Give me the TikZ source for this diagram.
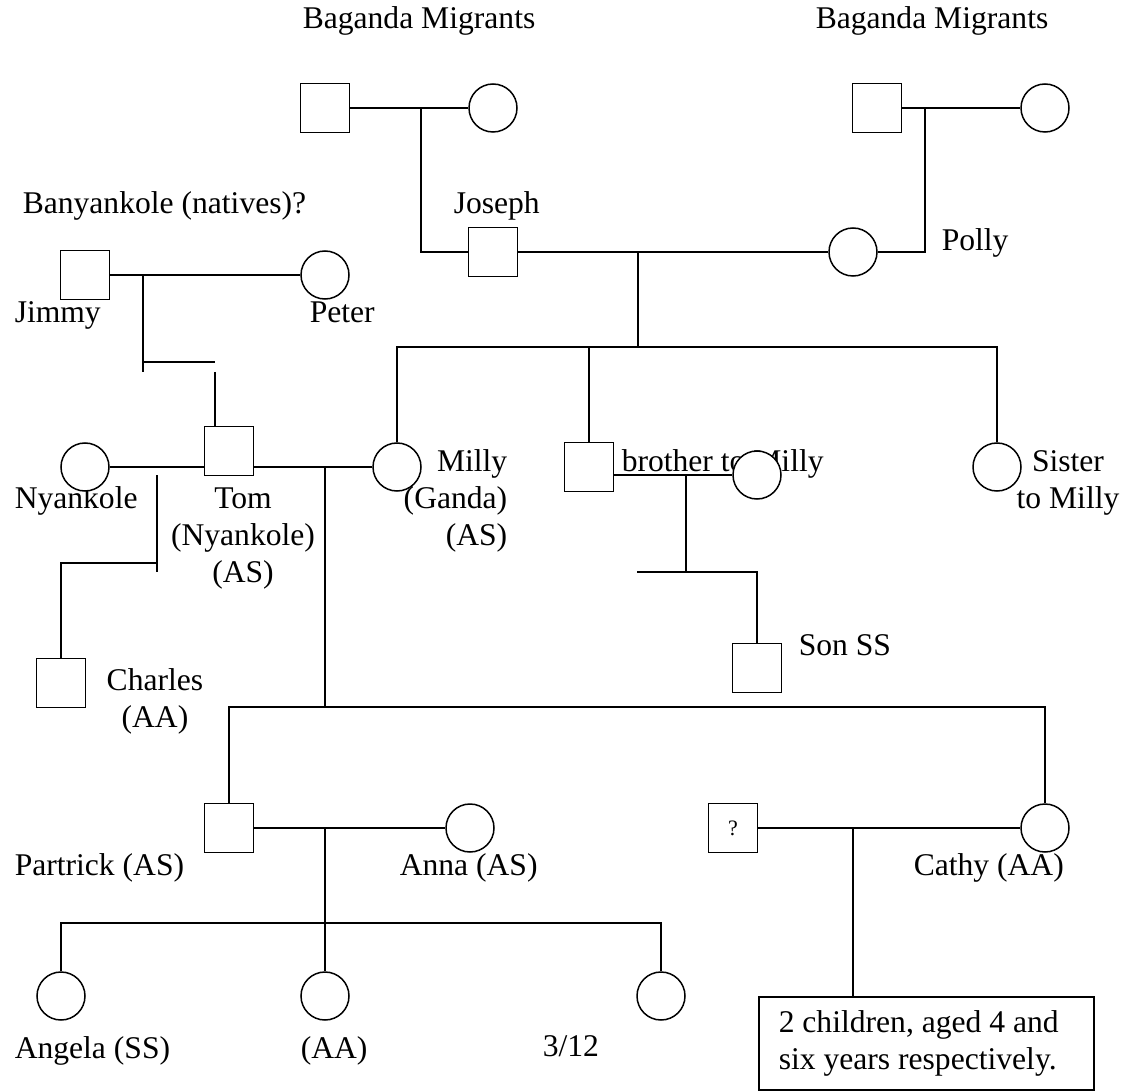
\documentclass[tikz,border=0pt]{standalone}
\usepackage{fontspec}
\setmainfont{Liberation Serif}

\begin{document}
\begin{tikzpicture}[x=0.5pt, y=-0.5pt, line width=0.75pt,
        font=\fontsize{15.8}{18.3}\selectfont,
        male/.style={draw, fill=white, minimum size=24.5pt, inner sep=0pt},
        female/.style={draw, fill=white, circle, minimum size=24pt, inner sep=0pt},
        lbl/.style={inner sep=0pt, anchor=base west}]
    \useasboundingbox (0,0) rectangle (1125,1091);

    % names and notes
    \node[lbl] (bagL) at (302,29) {Baganda Migrants};
    \node[lbl] (bagR) at (815,29) {Baganda Migrants};
    \node[lbl] (banya) at (22,214) {Banyankole (natives)?};
    \node[lbl] (josephL) at (453,214) {Joseph};
    \node[lbl] (jimmyL) at (14,323) {Jimmy};
    \node[lbl] (peterL) at (309,323) {Peter};
    \node[lbl] (pollyL) at (941,251) {Polly};
    \node[lbl] (nyankL) at (14,508) {Nyankole};
    \node[lbl, anchor=base, align=center] (tomL) at (243,582) {Tom\\(Nyankole)\\(AS)};
    \node[lbl, anchor=base east, align=right] (millyL) at (508,545) {Milly\\(Ganda)\\(AS)};
    \node[lbl] (broL) at (621,471) {brother to Milly};
    \node[lbl, anchor=base, align=center] (sisL) at (1068,508) {Sister\\to Milly};
    \node[lbl] (sonL) at (798,655) {Son SS};
    \node[lbl, anchor=base, align=center] (charlesL) at (155,727) {Charles\\(AA)};
    \node[lbl] (partrickL) at (14,875) {Partrick (AS)};
    \node[lbl] (annaL) at (399,875) {Anna (AS)};
    \node[lbl] (cathyL) at (913,875) {Cathy (AA)};
    \node[lbl] (angelaL) at (14,1058) {Angela (SS)};
    \node[lbl] (girlAAL) at (300,1058) {(AA)};
    \node[lbl] (girl312L) at (542,1056) {3/12};

    % people
    \node[male] (gfL) at (325,108) {};
    \node[female] (gmL) at (493,108) {};
    \node[male] (gfR) at (877,108) {};
    \node[female] (gmR) at (1045,108) {};
    \node[male] (joseph) at (493,252) {};
    \node[female] (polly) at (853,252) {};
    \node[male] (jimmy) at (85,275) {};
    \node[female] (peter) at (325,275) {};
    \node[female] (nyank) at (85,467) {};
    \node[male] (tom) at (229,451) {};
    \node[female] (milly) at (397,467) {};
    \node[male] (bro) at (589,467) {};
    \node[female] (broW) at (757,475) {};
    \node[female] (sis) at (997,467) {};
    \node[male] (son) at (757,668) {};
    \node[male] (charles) at (61,683) {};
    \node[male] (partrick) at (229,828) {};
    \node[female] (anna) at (470,828) {};
    \node[male] (unk) at (733,828) {\fontsize{11}{13}\selectfont ?};
    \node[female] (cathy) at (1045,828) {};
    \node[female] (angela) at (61,996) {};
    \node[female] (girlAA) at (325,996) {};
    \node[female] (girl312) at (661,996) {};
    \node[draw, anchor=north west, minimum width=167.5pt, minimum height=46.5pt,
          text width=147.5pt, inner xsep=10pt, align=flush left] (kids) at (758,996)
          {2 children, aged 4 and\\six years respectively.};

    % couples and lines of descent
    \coordinate (gpL) at (421,108);
    \coordinate (gpR) at (925,108);
    \coordinate (jpk) at (638,252);
    \coordinate (sibs) at (638,347);
    \draw (gfL) -- (gmL);
    \draw (gpL) |- (joseph);
    \draw (gfR) -- (gmR);
    \draw (gpR) |- (polly);
    \draw (joseph) -- (polly);
    \draw (jpk) -- (sibs);
    \draw (milly) |- (sibs) -| (sis);
    \draw (bro) -- (bro |- sibs);

    \coordinate (jpm) at (143,275);
    \coordinate (jpe) at (143,372);
    \coordinate (jpa) at (143,362);
    \coordinate (jpb) at (215,362);
    \coordinate (jpc) at (215,372);
    \draw (jimmy) -- (peter);
    \draw (jpm) -- (jpe);
    \draw (jpa) -- (jpb);
    \draw (jpc) -- (jpc |- tom.north);

    \coordinate (ntm) at (157,475);
    \coordinate (ntb) at (157,572);
    \coordinate (ntc) at (157,563);
    \draw (nyank) -- (nyank -| tom.west);
    \draw (ntm) -- (ntb);
    \draw (ntc) -| (charles);

    \coordinate (tmm) at (325,467);
    \coordinate (tmk) at (325,707);
    \draw (tom.east |- milly) -- (milly);
    \draw (tmm) -- (tmk);
    \draw (partrick) |- (tmk) -| (cathy);

    \coordinate (bwm) at (686,475);
    \coordinate (bwk) at (686,572);
    \coordinate (bwl) at (637,572);
    \draw (bro.east |- broW) -- (broW);
    \draw (bwm) -- (bwk);
    \draw (bwl) -| (son);

    \coordinate (pam) at (325,828);
    \coordinate (pak) at (325,923);
    \draw (partrick) -- (anna);
    \draw (pam) -- (girlAA);
    \draw (angela) |- (pak) -| (girl312);

    \coordinate (ucm) at (853,828);
    \draw (unk) -- (cathy);
    \draw (ucm) -- (ucm |- kids.north);
\end{tikzpicture}
\end{document}
